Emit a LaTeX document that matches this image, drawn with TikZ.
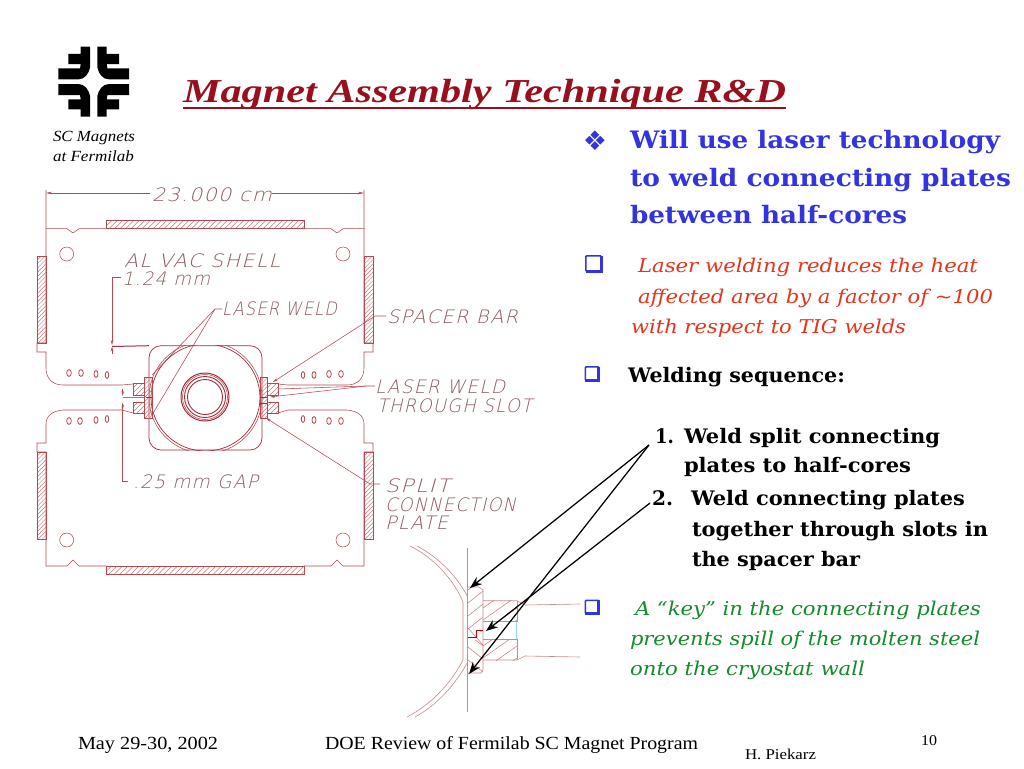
\documentclass[tikz,border=0pt]{standalone}
\usepackage{fontspec}
\usepackage{graphicx}
\usetikzlibrary{arrows.meta}
\setmainfont{Liberation Serif}
\newfontfamily\bodyf{DejaVu Serif}
\newfontfamily\symf{DejaVu Sans}
\newfontfamily\cadf[FakeSlant=0.24,LetterSpace=7]{DejaVu Sans ExtraLight}
\definecolor{cadline}{HTML}{B5484E}
\definecolor{cadtext}{HTML}{8C5A5E}
\definecolor{cadhatch}{HTML}{C8797C}
\definecolor{cadstrong}{HTML}{A82A3A}
\definecolor{detail}{HTML}{CC8A8C}
\definecolor{titlered}{HTML}{9A0F1E}
\definecolor{blueb}{HTML}{3333E0}
\definecolor{redb}{HTML}{E5341A}
\definecolor{greenb}{HTML}{148A2A}
\newcommand{\fw}[2]{\resizebox{#1pt}{\height}{#2}}
\newcommand{\fs}[1]{\fontsize{#1}{#1}\selectfont}
\newcommand{\hatchbox}[5]{%
  \begin{scope}
  \clip (#1,#2) rectangle (#3,#4);
  \pgfmathsetmacro{\hh}{#4-#2}
  \pgfmathsetmacro{\aa}{-\hh}
  \pgfmathsetmacro{\bb}{\aa+#5}
  \pgfmathsetmacro{\cc}{#3-#1}
  \foreach \k in {\aa,\bb,...,\cc} {
    \draw[cadhatch,line width=.45pt] ({#1+\k},#4) -- ({#1+\k+\hh},#2);
  }
  \end{scope}%
  \draw[cadline,line width=.6pt] (#1,#2) rectangle (#3,#4);
}
\tikzset{
  txt/.style={anchor=base west,inner sep=0pt,outer sep=0pt},
  cad/.style={txt,text=cadtext,font=\cadf\fs{18.5}},
  cadl/.style={cadline,line width=.55pt},
  cads/.style={cadstrong,line width=.7pt},
  detl/.style={detail,line width=.6pt},
  headb/.style={txt,text=blueb,font=\bodyf\bfseries\fs{24}},
  redt/.style={txt,text=redb,font=\bodyf\itshape\fs{19}},
  blk/.style={txt,text=black,font=\bodyf\bfseries\fs{20}},
  grn/.style={txt,text=greenb,font=\bodyf\itshape\fs{19}},
  foot/.style={txt,text=black,font=\fs{18.5}},
  bull/.style={anchor=center,inner sep=0pt,outer sep=0pt,text=blueb,font=\symf},
  sqbull/.style={draw=blueb,line width=1.5pt,rounded corners=1pt,fill=white,inner sep=0pt,outer sep=0pt,minimum size=#1},
  shade/.style={blueb,line width=2.6pt},
  callout/.style={black,line width=1.25pt,-{Stealth[length=12pt,width=9pt]}},
}
\begin{document}
\begin{tikzpicture}[x=1pt,y=-1pt]
\useasboundingbox (0,0) rectangle (1024,768);
\fill[white] (0,0) rectangle (1024,768);

% ---- logo
\foreach \sx/\sy in {1/1,-1/1,1/-1,-1/-1}{
  \begin{scope}[shift={(93.7,81.7)},xscale=\sx,yscale=\sy]
  \fill[black] (-13,-35) -- (-3.7,-35) -- (-3.7,-14) .. controls (-5,-8) and (-9,-2.3) .. (-15.3,-2.3)
     -- (-35.3,-2.3) -- (-35.3,-13.3) -- (-13.7,-13.3) -- (-13,-17.7) -- (-25.3,-17.7) -- (-25.3,-27.7) -- (-13,-27.7) -- cycle;
  \end{scope}
}
\node[txt,font=\itshape\fs{15.5}] (sc1) at (53,141) {\fw{82}{SC Magnets}};
\node[txt,font=\itshape\fs{15.5}] (sc2) at (53,161) {\fw{81}{at Fermilab}};

% ---- title
\node[txt,text=titlered,font=\bfseries\itshape\fs{33.5}] (title) at (183,102) {\fw{603}{Magnet Assembly Technique R\&D}};
\draw[titlered,line width=2pt] ([yshift=-5.5pt]title.base west) -- ([yshift=-5.5pt]title.base east);

% ---- main drawing: shells
\draw[cadl] (46,190) -- (46,343) -- (37,343) -- (37,352) -- (46,352) -- (46,368)
   .. controls (46,378) and (52,385) .. (63,385) -- (122,385) -- (133,384);
\draw[cadl] (46,228.7) -- (67,228.7) -- (73,233) -- (79,228.7) -- (106,228.7);
\draw[cadl] (304,228.7) -- (331,228.7) -- (337,233) -- (343,228.7) -- (364,228.7);
\draw[cadl] (364,190) -- (364,343) -- (373,343) -- (373,352) -- (364,352) -- (364,368)
   .. controls (364,378) and (358,385) .. (347,385) -- (288,385) -- (278,384);
\draw[cadl] (46,566) -- (67,566) -- (73,560) -- (79,566) -- (106,566);
\draw[cadl] (304,566) -- (331,566) -- (337,560) -- (343,566) -- (364,566);
\draw[cadl] (46,566) -- (46,452) -- (37,452) -- (37,443) -- (46,443) -- (46,424)
   .. controls (46,416) and (52,411) .. (63,410) -- (122,410) -- (133,413);
\draw[cadl] (364,566) -- (364,452) -- (373,452) -- (373,443) -- (364,443) -- (364,424)
   .. controls (364,416) and (358,411) .. (347,410) -- (288,410) -- (278,413);

\hatchbox{106}{220.7}{304}{228.7}{5.5}
\hatchbox{106}{566}{304}{574}{5.5}
\hatchbox{37}{256}{46}{343}{4.2}
\hatchbox{364}{256}{373.5}{343}{4.2}
\hatchbox{37}{452}{46}{539}{4.2}
\hatchbox{364}{452}{373.5}{539}{4.2}

\foreach \cx/\cy in {66.7/254,343/254,66.7/540,343/540}{
  \draw[cadl] (\cx,\cy) circle (7);
}
\foreach \cx/\cy/\rr in {69/373/2.9,81/373/2.9,96/374/2.5,107/375/2.2,303/375/2.2,314/375/2.5,329/374/2.9,341/374/2.9,
   69/421/2.9,80/421/2.9,96/420/2.5,107/419/2.2,303/419/2.2,314/420/2.5,329/421/2.9,341/421/2.9}{
  \draw[cadl,line width=.8pt] (\cx,\cy) ellipse (\rr*0.8 and 3.4);
}

% ---- core
\draw[cads,rounded corners=12pt] (149,345.7) rectangle (262,450);
\begin{scope}
  \clip (149,345.7) rectangle (262,450);
  \draw[cadl] (205.5,397.5) ellipse (56.5 and 56);
  \draw[cads] (205.5,397.5) ellipse (54.5 and 53.5);
\end{scope}
\draw[cads,line width=1pt] (205,397) circle (24);
\draw[cadl] (205,397) circle (22.5);
\draw[cads,line width=.9pt] (205,397) circle (20.5);
\draw[cads,line width=.9pt] (205,397) circle (17.5);

\hatchbox{133}{383}{144}{395}{5}
\hatchbox{133}{402}{144}{413}{5}
\hatchbox{267}{383}{278}{395}{5}
\hatchbox{267}{402}{278}{413}{5}
\hatchbox{144}{377}{152}{418}{4.2}
\hatchbox{260}{377}{267.5}{418}{4.2}
\draw[cads] (152,397) -- (146,397) (267,397) -- (260,397) (267,403) -- (260,403);

% ---- CAD labels
\node[cad] (dim) at (152,201) {\fw{120}{23.000 cm}};
\node[cad] (shell) at (124,267) {\fw{156}{AL VAC SHELL}};
\node[cad] (mm124) at (122,285) {\fw{88}{1.24 mm}};
\node[cad] (weld1) at (222,315) {\fw{115}{LASER WELD}};
\node[cad] (bar) at (387,323) {\fw{131}{SPACER BAR}};
\node[cad] (weld2) at (375,393) {\fw{130}{LASER WELD}};
\node[cad] (slot) at (377,412) {\fw{155}{THROUGH SLOT}};
\node[cad] (gap) at (133,488) {\fw{125}{.25 mm GAP}};
\node[cad] (split) at (385,492) {\fw{65}{SPLIT}};
\node[cad] (conn) at (385,511) {\fw{131}{CONNECTION}};
\node[cad] (plate) at (385,529) {\fw{63}{PLATE}};

% ---- leaders
\coordinate (dimL) at (46,193);
\coordinate (dimR) at (364,193);
\coordinate (dimA) at (150,193);
\coordinate (dimB) at (272,193);
\draw[cadl,-{Stealth[length=6pt,width=2.5pt]}] (dimA) -- (dimL);
\draw[cadl,-{Stealth[length=6pt,width=2.5pt]}] (dimB) -- (dimR);
\coordinate (a124) at (121,277);
\coordinate (b124) at (112,277);
\coordinate (c124) at (112,345);
\draw[cadl,-{Stealth[length=5pt,width=2.5pt]}] (a124) -- (b124) -- (c124);
\coordinate (d124) at (112,354);
\coordinate (e124) at (112,346.5);
\draw[cadl,-{Stealth[length=5pt,width=2.5pt]}] (d124) -- (e124);
\coordinate (topline) at (149,345.7);
\draw[cads,line width=1pt] (e124) -- (topline);
\coordinate (lw1) at (222,309);
\coordinate (lw1a) at (215,309);
\coordinate (lw1b) at (152,375);
\coordinate (lw1c) at (152,415);
\draw[cadl] (lw1) -- (lw1a) -- (lw1b);
\draw[cadl] (lw1a) -- (lw1c);
\coordinate (sb1) at (386,316);
\coordinate (sb2) at (375,316);
\coordinate (sb3) at (273,382);
\draw[cadl,-{Stealth[length=5pt,width=2.5pt]}] (sb1) -- (sb2) -- (sb3);
\coordinate (lw2) at (375,386);
\coordinate (lw2a) at (366,386);
\coordinate (lw2b) at (270,397);
\coordinate (lw2c) at (278,389);
\draw[cadl,-{Stealth[length=5pt,width=2.5pt]}] (lw2) -- (lw2a) -- (lw2b);
\draw[cadl] (lw2a) -- (lw2c);
\coordinate (sp1) at (380,484);
\coordinate (sp2) at (370,484);
\coordinate (sp3) at (266,418);
\draw[cadl,-{Stealth[length=5pt,width=2.5pt]}] (sp1) -- (sp2) -- (sp3);
\coordinate (g1) at (128,481.7);
\coordinate (g2) at (122.7,481.7);
\coordinate (g4) at (122.7,402.5);
\coordinate (g5) at (122.7,389);
\coordinate (g6) at (122.7,396);
\coordinate (g7) at (122.7,397.3);
\coordinate (g8) at (144,397.3);
\draw[cadl,-{Stealth[length=5pt,width=2.5pt]}] (g1) -- (g2) -- (g4);
\draw[cadl,-{Stealth[length=5pt,width=2.5pt]}] (g5) -- (g6);
\draw[cadl,cadline!60!cyan] (g7) -- (g8);

% ---- detail
\draw[detl] (467.7,548) -- (467.7,712);
\draw[detl] (410,546) .. controls (435,558) and (455,582) .. (463,602) -- (463,660) .. controls (450,685) and (430,705) .. (407,717);
\draw[detl] (417,546) .. controls (440,558) and (458,578) .. (467.7,597);
\draw[detl] (467.7,662) .. controls (455,685) and (437,705) .. (415,717);
\begin{scope}
  \clip (468,587) rectangle (483,631);
  \foreach \k in {0,13,26,39,52}{ \draw[cadhatch,line width=.5pt] (468,{590+\k}) -- (483,{578+\k}); }
\end{scope}
\begin{scope}
  \clip (468,640) rectangle (483,673);
  \foreach \k in {0,13,26,39}{ \draw[cadhatch,line width=.5pt] (468,{634+\k}) -- (483,{646+\k}); }
\end{scope}
\draw[detl] (468,587) -- (479,587) -- (483,590) -- (483,670) -- (481,673) -- (468,673);
\draw[cadhatch,line width=.5pt] (468,628) -- (476,637) -- (483,645);
\draw[red!75!black,line width=.7pt] (468,637) -- (476,637) -- (476,630) -- (483,630);
\begin{scope}
  \clip (483,600.7) rectangle (517,621.7);
  \foreach \k in {0,12,24,36,48}{ \draw[cadhatch,line width=.5pt] (483,{608+\k}) -- (517,{584+\k}); }
\end{scope}
\begin{scope}
  \clip (483,639) rectangle (517,660);
  \foreach \k in {0,12,24,36,48}{ \draw[cadhatch,line width=.5pt] (483,{646+\k}) -- (517,{622+\k}); }
\end{scope}
\draw[detl] (483,600.7) -- (517,600.7) -- (525,605) -- (580,604);
\draw[detl] (483,660) -- (517,660) -- (525,656) -- (580,657);
\draw[detl] (483,621.7) -- (517,621.7);
\draw[detl] (483,639) -- (517,639);
\draw[detl] (517,600.7) -- (517,621.7);
\draw[detl] (517,639) -- (517,660);
\draw[cyan!45,line width=.6pt] (516.5,621.7) -- (516.5,639);

% ---- right text
\node[bull,font=\symf\fs{27}] (b0) at (595,141) {❖};
\node[headb] (h1) at (630,148) {\fw{370}{Will use laser technology}};
\node[headb] (h2) at (630,186.5) {\fw{381}{to weld connecting plates}};
\node[headb] (h3) at (630,223.5) {\fw{277}{between half-cores}};

\node[sqbull=15.5pt] (b1) at (593.5,263.5) {};
\draw[shade] (b1.north east) -- (b1.south east) -- (b1.south west);
\node[redt] (r1) at (638,272.5) {\fw{340}{Laser welding reduces the heat}};
\node[redt] (r2) at (638,303) {\fw{355}{affected area by a factor of \textasciitilde100}};
\node[redt] (r3) at (631,333) {\fw{275}{with respect to TIG welds}};

\node[sqbull=13.5pt] (b2) at (592,373.5) {};
\draw[shade] (b2.north east) -- (b2.south east) -- (b2.south west);
\node[blk] (w0) at (628,382) {\fw{217}{Welding sequence:}};

\node[blk] (n1) at (655,443) {\fw{19}{1.}};
\node[blk] (s1a) at (684,443) {\fw{256}{Weld split connecting}};
\node[blk] (s1b) at (684,472.7) {\fw{227}{plates to half-cores}};
\node[blk] (n2) at (652,505.7) {\fw{21}{2.}};
\node[blk] (s2a) at (691,505.7) {\fw{274}{Weld connecting plates}};
\node[blk] (s2b) at (692,536) {\fw{296}{together through slots in}};
\node[blk] (s2c) at (692,566) {\fw{168}{the spacer bar}};

\node[sqbull=13.5pt] (b3) at (592,607) {};
\draw[shade] (b3.north east) -- (b3.south east) -- (b3.south west);
\node[grn] (g1t) at (635,615) {\fw{346}{A “key” in the connecting plates}};
\node[grn] (g2t) at (630,645) {\fw{350}{prevents spill of the molten steel}};
\node[grn] (g3t) at (630,675) {\fw{235}{onto the cryostat wall}};

% ---- callouts
\coordinate (c1) at (649,445);
\coordinate (c2) at (650,503);
\coordinate (t1) at (470,588);
\coordinate (t2) at (469,674);
\coordinate (t3) at (486,631);
\draw[callout] (c1) -- (t1);
\draw[callout] (c1) -- (t2);
\draw[callout] (c2) -- (t3);

% ---- footer
\node[foot] (f1) at (78,749) {\fw{140}{May 29-30, 2002}};
\node[foot] (f2) at (325,749) {\fw{373}{DOE Review of Fermilab SC Magnet Program}};
\node[txt,font=\fs{15}] (f3) at (745,759) {\fw{71}{H. Piekarz}};
\node[txt,font=\fs{15}] (f4) at (921,745) {\fw{16}{10}};
\end{tikzpicture}
\end{document}
